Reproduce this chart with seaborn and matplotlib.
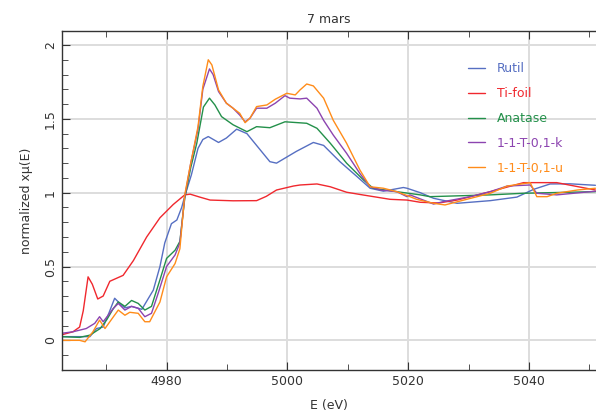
import numpy as np
import pandas as pd
import matplotlib
matplotlib.use("Agg")
import matplotlib.pyplot as plt
import seaborn as sns
from matplotlib.ticker import MultipleLocator

# values (E in eV, normalized x mu(E))
rutil_e = [4962.5, 4965.0, 4967.3, 4968.4, 4969.5, 4970.5, 4971.4, 4972.5, 4973.1, 4974.2, 4975.9,
           4977.8, 4978.9, 4979.7, 4980.8, 4981.7, 4982.5, 4983.0, 4984.1, 4985.2, 4986.0, 4986.9,
           4988.6, 4989.9, 4991.6, 4993.3, 4995.5, 4997.1, 4998.2, 5001.5, 5004.3, 5006.0, 5008.7,
           5011.5, 5013.7, 5015.9, 5019.2, 5019.8, 5022.0, 5024.2, 5028.1, 5033.6, 5038.0, 5040.8,
           5043.5, 5046.8, 5051.0]
rutil_v = [0.025, 0.025, 0.025, 0.08, 0.09, 0.19, 0.285, 0.24, 0.22, 0.23, 0.21,
           0.34, 0.50, 0.66, 0.79, 0.815, 0.90, 0.975, 1.12, 1.30, 1.36, 1.38,
           1.34, 1.37, 1.43, 1.40, 1.29, 1.21, 1.20, 1.28, 1.34, 1.32, 1.21,
           1.11, 1.03, 1.01, 1.035, 1.03, 1.0, 0.962, 0.928, 0.946, 0.97, 1.023,
           1.059, 1.06, 1.05]

tifoil_e = [4962.5, 4964.5, 4965.6, 4966.2, 4967.0, 4967.7, 4968.6, 4969.5, 4970.6, 4972.8, 4974.5,
            4976.7, 4978.9, 4981.1, 4983.0, 4983.9, 4985.5, 4987.2, 4991.0, 4994.9, 4996.5, 4998.2,
            5001.0, 5002.1, 5004.9, 5007.1, 5009.8, 5012.6, 5017.0, 5019.8, 5022.0, 5025.0, 5028.1,
            5033.6, 5039.1, 5044.6, 5051.0]
tifoil_v = [0.036, 0.058, 0.09, 0.20, 0.43, 0.38, 0.28, 0.30, 0.40, 0.44, 0.54,
            0.70, 0.83, 0.92, 0.985, 0.99, 0.97, 0.95, 0.945, 0.946, 0.975, 1.018,
            1.045, 1.052, 1.059, 1.04, 1.003, 0.984, 0.955, 0.95, 0.935, 0.93, 0.95,
            1.007, 1.068, 1.068, 1.018]

anatase_e = [4962.5, 4965.6, 4967.3, 4969.0, 4970.1, 4971.1, 4972.0, 4973.1, 4974.2, 4975.3, 4976.4,
             4977.5, 4978.9, 4980.0, 4981.4, 4982.2, 4983.0, 4984.0, 4985.0, 4986.1, 4987.1,
             4988.0, 4989.1, 4991.0, 4993.3, 4994.9, 4997.1, 4999.6, 5003.2, 5004.9, 5007.1, 5009.8,
             5012.6, 5014.2, 5017.0, 5022.0, 5023.6, 5033.6, 5039.1, 5051.0]
anatase_v = [0.025, 0.02, 0.035, 0.08, 0.14, 0.21, 0.26, 0.23, 0.27, 0.25, 0.205,
             0.23, 0.41, 0.555, 0.61, 0.67, 0.96, 1.17, 1.335, 1.58, 1.64,
             1.594, 1.515, 1.46, 1.413, 1.447, 1.44, 1.48, 1.47, 1.436, 1.335, 1.20,
             1.086, 1.03, 1.013, 0.985, 0.973, 0.985, 0.996, 1.007]

k_e = [4962.5, 4964.5, 4966.7, 4968.1, 4968.9, 4969.5, 4971.2, 4972.0, 4973.1, 4974.2, 4975.3,
       4976.4, 4977.5, 4978.6, 4980.0, 4981.4, 4982.2, 4983.0, 4984.0, 4985.2, 4986.0, 4987.1,
       4987.7, 4988.6, 4989.9, 4991.0, 4992.1, 4993.0, 4993.8, 4994.9, 4996.6, 4998.0, 4999.6,
       5000.4, 5002.1, 5003.2, 5004.9, 5006.0, 5007.6, 5009.8, 5012.0, 5013.7, 5015.4, 5018.1,
       5019.8, 5020.3, 5024.2, 5025.9, 5030.3, 5033.6, 5036.4, 5040.2, 5041.3, 5044.6, 5051.0]
k_v = [0.047, 0.058, 0.08, 0.115, 0.16, 0.126, 0.217, 0.25, 0.205, 0.23, 0.217,
       0.16, 0.183, 0.318, 0.50, 0.578, 0.66, 0.97, 1.20, 1.43, 1.70, 1.838,
       1.80, 1.685, 1.606, 1.572, 1.526, 1.48, 1.504, 1.572, 1.572, 1.606, 1.657,
       1.64, 1.635, 1.64, 1.572, 1.49, 1.39, 1.267, 1.13, 1.04, 1.018, 1.007,
       0.973, 0.985, 0.923, 0.94, 0.973, 1.007, 1.045, 1.052, 0.996, 0.985, 1.01]

u_e = [4962.5, 4965.6, 4966.5, 4967.8, 4968.9, 4969.8, 4971.2, 4972.0, 4973.1, 4973.9, 4975.3,
       4976.4, 4977.2, 4978.9, 4980.0, 4981.4, 4982.2, 4983.0, 4984.0, 4985.2, 4986.0, 4986.9,
       4987.5, 4988.6, 4989.9, 4991.0, 4992.1, 4993.0, 4993.8, 4994.9, 4996.6, 4998.0, 4999.9,
       5001.3, 5002.1, 5003.2, 5004.3, 5006.0, 5007.6, 5009.8, 5012.0, 5013.7, 5015.9, 5018.1,
       5020.3, 5021.4, 5024.2, 5026.1, 5029.7, 5033.6, 5036.4, 5040.2, 5041.3, 5043.0, 5044.6,
       5048.0, 5051.0]
u_v = [0.0, 0.0, -0.01, 0.058, 0.137, 0.08, 0.16, 0.205, 0.17, 0.19, 0.183,
       0.126, 0.126, 0.26, 0.43, 0.52, 0.62, 0.985, 1.20, 1.447, 1.72, 1.90,
       1.865, 1.696, 1.606, 1.572, 1.538, 1.474, 1.504, 1.583, 1.594, 1.633, 1.673,
       1.662, 1.696, 1.736, 1.723, 1.64, 1.49, 1.335, 1.154, 1.04, 1.03, 1.007,
       0.973, 0.955, 0.928, 0.917, 0.955, 0.996, 1.045, 1.068, 0.973, 0.973, 0.996,
       1.018, 1.03]

names = ["Rutil", "Ti-foil", "Anatase", "1-1-T-0,1-k", "1-1-T-0,1-u"]
colors = ["#566fc2", "#f0282e", "#23904a", "#8c44b0", "#ff8c1a"]

series = [(rutil_e, rutil_v), (tifoil_e, tifoil_v), (anatase_e, anatase_v), (k_e, k_v), (u_e, u_v)]
frames = []
for name, (e, v) in zip(names, series):
    frames.append(pd.DataFrame({"E": e, "mu": v, "sample": name}))
data = pd.concat(frames, ignore_index=True)

sns.set_style("white")
plt.rcParams['font.family'] = ['DejaVu Sans']
txt = "#333333"

fig = plt.figure(figsize=(5.96, 4.12), dpi=100)
ax = fig.add_axes([0.1032, 0.1019, 0.8968, 0.8229])

sns.lineplot(data=data, x="E", y="mu", hue="sample", hue_order=names,
             palette=dict(zip(names, colors)), sort=False, estimator=None,
             linewidth=1.0, ax=ax)

ax.set_xlim(4962.6, 5051.1)
ax.set_ylim(-0.201, 2.095)
ax.xaxis.set_major_locator(MultipleLocator(20))
ax.xaxis.set_minor_locator(MultipleLocator(10))
ax.yaxis.set_major_locator(MultipleLocator(0.5))
ax.yaxis.set_minor_locator(MultipleLocator(0.1))
ax.yaxis.set_major_formatter(matplotlib.ticker.FuncFormatter(lambda v, p: "%g" % v))
ax.grid(True, which="major", color="#dddddd", linewidth=1.4)
ax.set_axisbelow(True)
ax.tick_params(which="both", direction="in", top=True, right=False, left=True, bottom=True,
               color="#333333", labelsize=9, labelcolor=txt)
ax.tick_params(which="major", length=6)
ax.tick_params(which="minor", length=4)
for lab in ax.get_yticklabels():
    lab.set_rotation(90)
    lab.set_va("center")
for s in ["left", "bottom", "top"]:
    ax.spines[s].set_color("#333333")
    ax.spines[s].set_linewidth(1.0)
ax.spines["right"].set_visible(False)

ax.set_xlabel("E (eV)", fontsize=9, color=txt, labelpad=8)
ax.set_ylabel("normalized x\u03bc(E)", fontsize=9, color=txt, labelpad=8)
ax.set_title("7 mars", fontsize=9, color=txt, pad=6)

leg = ax.legend(loc="upper left", bbox_to_anchor=(0.7605, 0.908), frameon=False, fontsize=9,
                labelcolor="linecolor", handlelength=1.36, handletextpad=0.96,
                labelspacing=0.95, borderpad=0, borderaxespad=0)

fig.savefig("out.png", dpi=100)
